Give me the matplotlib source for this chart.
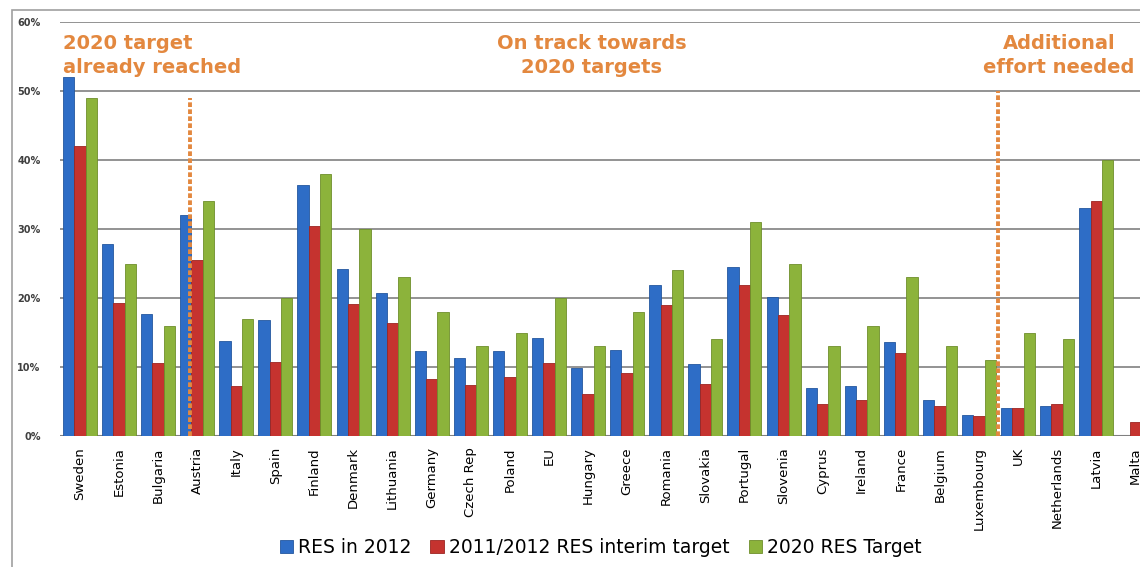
import matplotlib.pyplot as plt
from matplotlib.patches import Rectangle
import numpy as np

# Renewable energy share by country, in percent
countries = ['Sweden', 'Estonia', 'Bulgaria', 'Austria', 'Italy', 'Spain', 'Finland',
             'Denmark', 'Lithuania', 'Germany', 'Czech Rep', 'Poland', 'EU', 'Hungary',
             'Greece', 'Romania', 'Slovakia', 'Portugal', 'Slovenia', 'Cyprus', 'Ireland',
             'France', 'Belgium', 'Luxembourg', 'UK', 'Netherlands', 'Latvia', 'Malta']
res_2012 = [52.0, 27.8, 17.7, 32.1, 13.8, 16.8, 36.4, 24.2, 20.7, 12.3, 11.3, 12.3, 14.2, 9.8,
            12.5, 21.9, 10.5, 24.5, 20.2, 6.9, 7.3, 13.6, 5.2, 3.0, 4.1, 4.3, 33.0, 0.0]
interim_target = [42.0, 19.3, 10.6, 25.5, 7.3, 10.7, 30.4, 19.1, 16.4, 8.3, 7.4, 8.6, 10.6, 6.1,
                  9.1, 19.0, 7.6, 21.9, 17.6, 4.7, 5.2, 12.0, 4.4, 2.9, 4.0, 4.6, 34.0, 2.0]
target_2020 = [49, 25, 16, 34, 17, 20, 38, 30, 23, 18, 13, 15, 20, 13,
               18, 24, 14, 31, 25, 13, 16, 23, 13, 11, 15, 14, 40, 10]
ytick_vals = [0, 10, 20, 30, 40, 50, 60]

orange = '#E3883F'
plt.rcParams['font.family'] = 'DejaVu Sans'

fig = plt.figure(figsize=(11.4, 5.67), dpi=100)
ax = fig.add_axes([0.0526, 0.231, 1.0 - 0.0526, 0.961 - 0.231])

x = np.arange(len(countries))
w = 0.29
ax.bar(x - w, res_2012, w, color='#2E6DC6', edgecolor='#24579E', lw=0.6,
       label='RES in 2012', zorder=3)
ax.bar(x, interim_target, w, color='#C5332F', edgecolor='#9C2522', lw=0.6,
       label='2011/2012 RES interim target', zorder=3)
ax.bar(x + w, target_2020, w, color='#8CB33B', edgecolor='#6E8F2B', lw=0.6,
       label='2020 RES Target', zorder=3)

ax.set_xlim(-0.51, 27.12)
ax.set_ylim(0, 60)
ax.set_yticks(ytick_vals)
ax.set_yticklabels(['%d%%' % v for v in ytick_vals], fontsize=7, fontweight='bold',
                   color='#404040')
ax.set_xticks(x)
ax.set_xticklabels(countries, rotation=90, fontsize=9.5)
ax.tick_params(length=0)
ax.tick_params(axis='y', pad=14)
ax.tick_params(axis='x', pad=8)
ax.grid(axis='y', color='#808080', lw=1.2, zorder=0)
for s in ax.spines.values():
    s.set_visible(False)
ax.axhline(0, color='#808080', lw=1.5, zorder=2)

# group separators
ax.plot([2.81, 2.81], [0, 49], color=orange, lw=2.8, ls=(0, (1.2, 0.6)), zorder=4)
ax.plot([23.49, 23.49], [0, 50], color=orange, lw=2.8, ls=(0, (1.2, 0.6)), zorder=4)

ax.text(-0.44, 55.2, '2020 target\nalready reached', color=orange, fontsize=14,
        fontweight='bold', ha='left', va='center', linespacing=1.35)
ax.text(13.1, 55.2, 'On track towards\n2020 targets', color=orange, fontsize=14,
        fontweight='bold', ha='center', va='center', linespacing=1.35)
ax.text(25.05, 55.2, 'Additional\neffort needed', color=orange, fontsize=14,
        fontweight='bold', ha='center', va='center', linespacing=1.35)

# outer frame
fig.patches.append(Rectangle((12 / 1140, -0.1), 1.2, 1.1 + (557 / 567 - 1),
                             transform=fig.transFigure, fill=False,
                             edgecolor='#A0A0A0', lw=1.2))

fig.legend(loc='center', bbox_to_anchor=(0.527, 0.034), ncol=3, frameon=False,
           fontsize=13.5, handlelength=0.7, handleheight=0.7, handletextpad=0.3,
           columnspacing=1.0)

fig.savefig('out.png', dpi=100)
